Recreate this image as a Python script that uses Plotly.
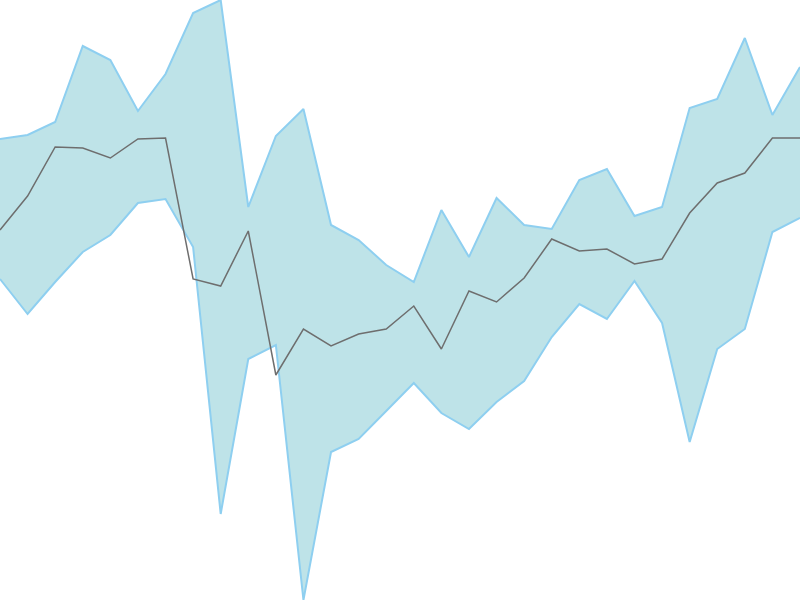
import plotly.graph_objects as go

x = list(range(30))
upper = [461, 465, 478, 554, 540, 489, 526, 587, 600, 393, 464, 491, 375, 360, 335, 318, 390, 343, 402, 375, 371, 420, 431, 384, 393, 492, 501, 562, 485, 533]
middle = [370, 404, 453, 452, 442, 461, 462, 321, 314, 369, 225, 271, 254, 266, 271, 294, 251, 309, 298, 322, 361, 349, 351, 336, 341, 387, 417, 427, 462, 462]
lower = [321, 286, 318, 348, 365, 397, 401, 353, 86, 241, 255, 0, 148, 161, 189, 217, 187, 171, 198, 219, 263, 296, 281, 319, 277, 158, 251, 271, 368, 382]

band_line = "#8ecff0"
band_fill = "rgba(190,227,232,1)"

fig = go.Figure()
fig.add_trace(go.Scatter(x=x, y=lower, mode="lines", line=dict(color=band_line, width=2),
                         hoverinfo="skip", showlegend=False, cliponaxis=False))
fig.add_trace(go.Scatter(x=x, y=upper, mode="lines", line=dict(color=band_line, width=2),
                         fill="tonexty", fillcolor=band_fill, showlegend=False, cliponaxis=False))
fig.add_trace(go.Scatter(x=x, y=middle, mode="lines", line=dict(color="#6e6e6e", width=1.5),
                         showlegend=False))

fig.update_layout(
    width=800, height=600,
    margin=dict(l=0, r=0, t=0, b=0),
    paper_bgcolor="white", plot_bgcolor="white",
    xaxis=dict(range=[0, 29], visible=False, fixedrange=True),
    yaxis=dict(range=[0, 600], visible=False, fixedrange=True),
    hovermode=False,
)
fig.write_html("out.html",
               config={"displayModeBar": False, "staticPlot": True},
               post_script="document.body.style.margin='0px';document.body.style.overflow='hidden';")
